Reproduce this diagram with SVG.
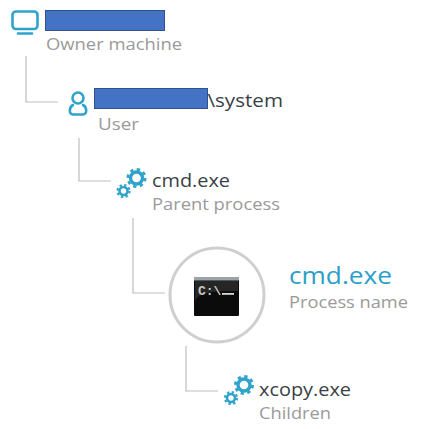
<svg xmlns="http://www.w3.org/2000/svg" width="437" height="429" viewBox="0 0 437 429">
<style>
.n{font-family:"Open Sans","Liberation Sans",sans-serif;font-size:18.4px;fill:#3a3f47}
.l{font-family:"Open Sans","Liberation Sans",sans-serif;font-size:16.6px;fill:#9a9a9a}
.c{fill:none;stroke:#bdbdbd;stroke-width:1.2}
.i{fill:none;stroke:#2fa3cc;stroke-width:2.6;stroke-linecap:round}
.b{fill:#4472c4;stroke:#2f528f;stroke-width:1}
</style>
<defs>
<g id="gears">
<circle cx="13" cy="-1" r="6" fill="none" stroke="#2fa3cc" stroke-width="3.4"/>
<circle cx="13" cy="-1" r="8.600" fill="none" stroke="#2fa3cc" stroke-width="2.8" stroke-dasharray="3.3 3.45"/>
<circle cx="0" cy="12" r="4" fill="none" stroke="#2fa3cc" stroke-width="2.600"/>
<circle cx="0" cy="12" r="6" fill="none" stroke="#2fa3cc" stroke-width="2.200" stroke-dasharray="2.35 2.36"/>
</g>
</defs>
<rect width="437" height="429" fill="#fff"/>
<g id="connectors">
<path class="c" d="M26 56V102H58"/>
<path class="c" d="M79 138V181H111"/>
<path class="c" d="M133 218V293H165"/>
<path class="c" d="M186 346V391H218"/>
</g>
<g id="owner">
<rect class="i" x="12.500" y="11.500" width="25" height="17.500" rx="3.500"/>
<path class="i" d="M18 33.500H32"/>
<rect class="b" x="45.500" y="10.500" width="119" height="20"/>
<text class="l" x="46" y="50" textLength="136" lengthAdjust="spacingAndGlyphs">Owner machine</text>
</g>
<g id="user">
<circle class="i" cx="78" cy="98" r="5.500"/>
<path class="i" d="M73 105C69 107 68.500 114.500 73 114.500H83C87.500 114.500 87 107 83 105"/>
<rect class="b" x="94.500" y="88.500" width="113" height="20"/>
<text class="n" x="207.500" y="107" textLength="75.500" lengthAdjust="spacingAndGlyphs">\system</text>
<text class="l" x="98" y="130" textLength="41" lengthAdjust="spacingAndGlyphs">User</text>
</g>
<g id="parent">
<use href="#gears" x="123.500" y="179"/>
<text class="n" x="152" y="187" textLength="78" lengthAdjust="spacingAndGlyphs">cmd.exe</text>
<text class="l" x="152" y="210" textLength="128" lengthAdjust="spacingAndGlyphs">Parent process</text>
</g>
<g id="process">
<circle cx="217" cy="295" r="47" fill="#fff" stroke="#cfcfcf" stroke-width="3"/>
<rect x="194" y="277" width="45" height="39" rx="1" fill="#0b0b0b"/>
<rect x="194" y="277" width="45" height="3.500" fill="#9aa3a8"/>
<path d="M195 302C197 294 206 291 238 291V281H195Z" fill="#262626"/>
<text x="198" y="295" font-family="'Liberation Mono',monospace" font-size="13" font-weight="bold" fill="#c8c8c8">C:\</text>
<rect x="222" y="293" width="12" height="1.800" fill="#d8d8d8"/>
<text x="289" y="283.500" font-family="'Open Sans','Liberation Sans',sans-serif" font-size="24" fill="#2b9fc9" font-weight="500" textLength="103" lengthAdjust="spacingAndGlyphs">cmd.exe</text>
<text class="l" x="289" y="308" textLength="119" lengthAdjust="spacingAndGlyphs">Process name</text>
</g>
<g id="children">
<use href="#gears" x="231" y="386"/>
<text class="n" x="259" y="396" textLength="92" lengthAdjust="spacingAndGlyphs">xcopy.exe</text>
<text class="l" x="259" y="419" textLength="72" lengthAdjust="spacingAndGlyphs">Children</text>
</g>
</svg>
